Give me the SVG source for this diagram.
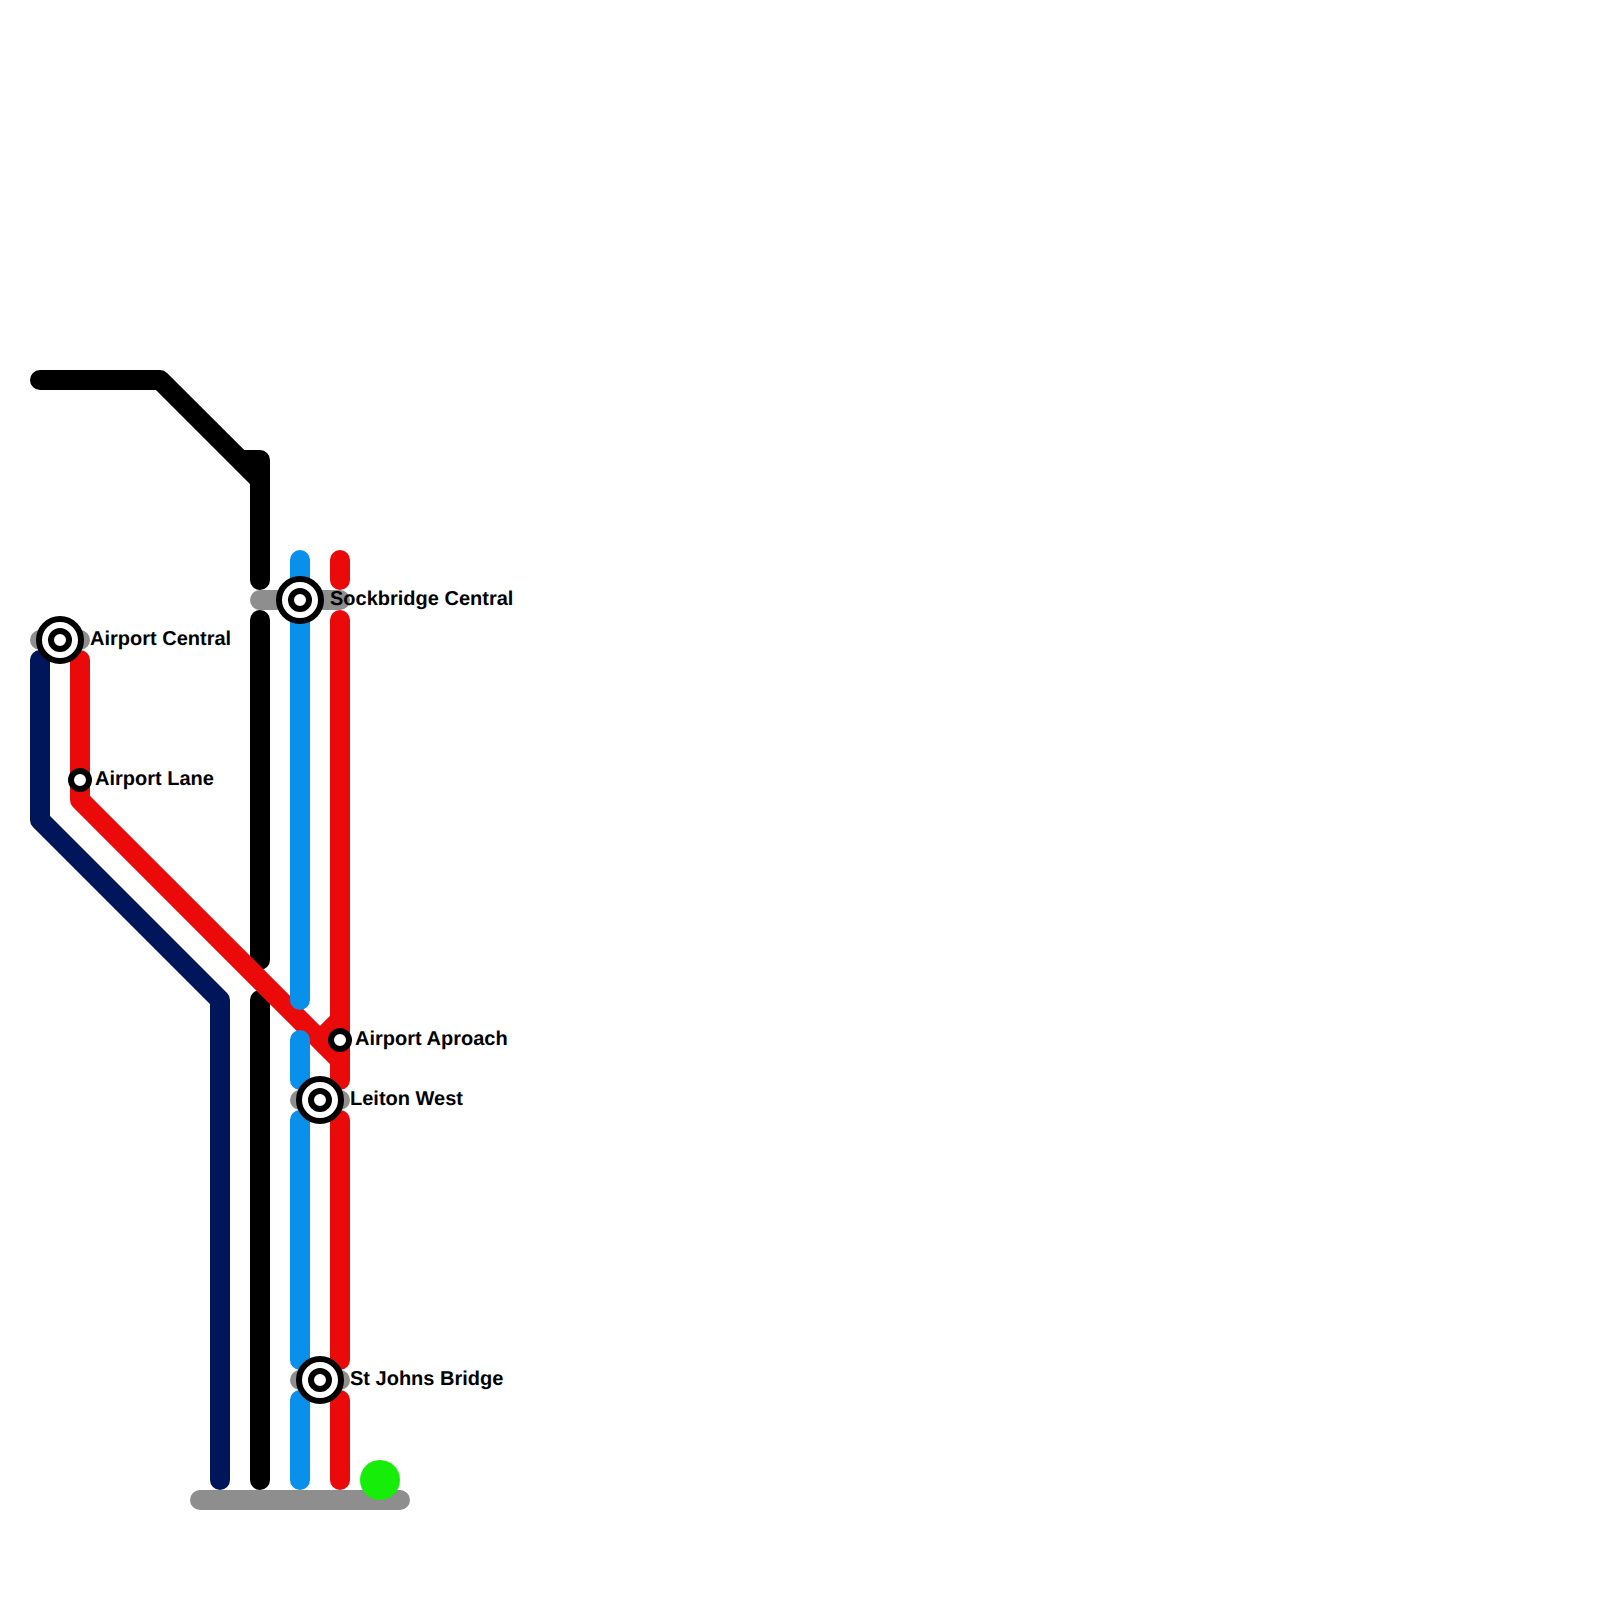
<svg xmlns="http://www.w3.org/2000/svg" width="1600" height="1600" viewBox="0 0 1600 1600">
<style>
.l{fill:none;stroke-width:20;stroke-linecap:round;stroke-linejoin:round}
.navy{stroke:#00165a}.black{stroke:#000}.red{stroke:#ea0a0a}.blue{stroke:#0890ea}.grey{stroke:#8e8e8e}
.o{fill:#fff;stroke:#000;stroke-width:6}
text{font-family:"Liberation Sans",Arial,sans-serif;font-weight:700;font-size:20px;fill:#000;text-rendering:geometricPrecision}
</style>
<rect width="1600" height="1600" fill="#fff"/>
<g id="connectors">
<path class="l grey" d="M200 1500H400"/>
<path class="l grey" d="M260 600H340"/>
<path class="l grey" d="M40 640H80"/>
<path class="l grey" d="M300 1100H340"/>
<path class="l grey" d="M300 1380H340"/>
<path class="l navy" d="M40 660V820L220 1000V1480"/>
<path class="l black" d="M40 380H160L260 480V580M240 460H260V480M260 620V960M260 1000V1480"/>
<path class="l red" d="M340 560V580M340 620V1080M340 1020L320 1040M80 660V800L340 1060M340 1120V1360M340 1400V1480"/>
<path class="l blue" d="M300 560V1000M300 1040V1080M300 1120V1360M300 1400V1480"/>
</g>
<g id="terminus"><circle cx="380" cy="1480" r="20" fill="#16ee0a"/></g>
<g id="sockbridge-central"><circle class="o" cx="300" cy="600" r="21"/><circle class="o" cx="300" cy="600" r="9"/><text x="330" y="605">Sockbridge Central</text></g>
<g id="airport-central"><circle class="o" cx="60" cy="640" r="21"/><circle class="o" cx="60" cy="640" r="9"/><text x="90" y="645">Airport Central</text></g>
<g id="airport-lane"><circle class="o" cx="80" cy="780" r="9"/><text x="95" y="785">Airport Lane</text></g>
<g id="airport-aproach"><circle class="o" cx="340" cy="1040" r="9"/><text x="355" y="1045">Airport Aproach</text></g>
<g id="leiton-west"><circle class="o" cx="320" cy="1100" r="21"/><circle class="o" cx="320" cy="1100" r="9"/><text x="350" y="1105">Leiton West</text></g>
<g id="st-johns-bridge"><circle class="o" cx="320" cy="1380" r="21"/><circle class="o" cx="320" cy="1380" r="9"/><text x="350" y="1385">St Johns Bridge</text></g>
</svg>
